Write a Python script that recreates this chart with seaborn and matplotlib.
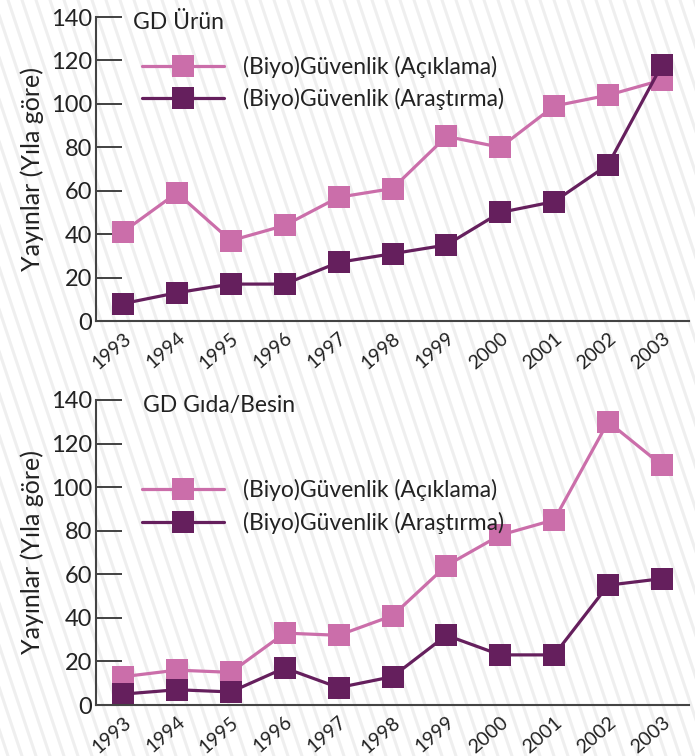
import numpy as np
import pandas as pd
import matplotlib
matplotlib.use('Agg')
import matplotlib.pyplot as plt
from matplotlib.lines import Line2D
import seaborn as sns

# Veri
years = ['1993', '1994', '1995', '1996', '1997', '1998', '1999', '2000', '2001', '2002', '2003']
urun_aciklama = [41, 59, 37, 44, 57, 61, 85, 80, 99, 104, 111]
urun_arastirma = [8, 13, 17, 17, 27, 31, 35, 50, 55, 72, 118]
gida_aciklama = [13, 16, 15, 33, 32, 41, 64, 78, 85, 130, 110]
gida_arastirma = [5, 7, 6, 17, 8, 13, 32, 23, 23, 55, 58]

panel_titles = ['GD Ürün', 'GD Gıda/Besin']
series_names = ['(Biyo)Güvenlik (Açıklama)', '(Biyo)Güvenlik (Araştırma)']
colors = ['#CB6EAA', '#651F5D']

sns.set_theme(style='white')
plt.rcParams['font.family'] = ['Lato', 'DejaVu Sans']

W, H = 695, 756
fig = plt.figure(figsize=(W / 100, H / 100), dpi=100)
fig.patch.set_facecolor('white')

# arka plan cizgileri
for x0 in np.arange(-300, 720, 14):
    fig.add_artist(Line2D([x0 / W, (x0 + H / 3) / W], [1, 0],
                          transform=fig.transFigure, color='#efefef',
                          lw=2.2, zorder=-5))

def px_axes(left, top, right, bottom):
    return fig.add_axes([left / W, 1 - bottom / H, (right - left) / W, (bottom - top) / H])

ax1 = px_axes(96, 17, 689, 321)
ax2 = px_axes(96, 400, 689, 705)

panels = [
    (ax1, urun_aciklama, urun_arastirma, (0.062, 0.903)),
    (ax2, gida_aciklama, gida_arastirma, (0.062, 0.77)),
]

x = np.arange(len(years))
for i, (ax, acik, arast, leg_pos) in enumerate(panels):
    ax.set_facecolor('none')
    df = pd.DataFrame({
        'yil': np.concatenate([x, x]),
        'deger': acik + arast,
        'seri': [series_names[0]] * len(x) + [series_names[1]] * len(x),
    })
    sns.lineplot(data=df, x='yil', y='deger', hue='seri', palette=colors,
                 marker='s', markersize=16, markeredgewidth=0, linewidth=2.3,
                 ax=ax, legend=True)
    ax.set_xlim(-0.5, 10.5)
    ax.set_ylim(0, 140)
    ax.set_yticks(range(0, 141, 20))
    ax.set_xticks(x)
    ax.set_xticklabels(years, rotation=41, ha='right', rotation_mode='anchor')
    ax.set_xticks(x + 0.5, minor=True)
    ax.tick_params(axis='x', which='major', length=0, labelsize=14, pad=6, colors='#222222')
    ax.tick_params(axis='x', which='minor', direction='in', length=9, width=1.3, color='#333333')
    ax.tick_params(axis='y', direction='in', length=19, width=1.3, color='#333333',
                   labelsize=17, pad=3, labelcolor='#222222', left=True)
    ax.set_xlabel('')
    ax.set_ylabel('Yayınlar (Yıla göre)', fontsize=18, color='#222222', labelpad=5)
    for s in ['top', 'right']:
        ax.spines[s].set_visible(False)
    for s in ['left', 'bottom']:
        ax.spines[s].set_color('#444444')
        ax.spines[s].set_linewidth(1.5)
    ax.text(37 / 593 if i == 0 else 47 / 593, 1.015, panel_titles[i], transform=ax.transAxes,
            fontsize=16.5, va='top', ha='left', color='#222222')
    leg = ax.legend(loc='upper left', bbox_to_anchor=leg_pos, frameon=False,
                    fontsize=16.5, handlelength=3.6, handletextpad=0.8,
                    labelspacing=0.45, borderaxespad=0)
    for t in leg.get_texts():
        t.set_color('#222222')

fig.savefig('out.png', dpi=100, facecolor='white')
